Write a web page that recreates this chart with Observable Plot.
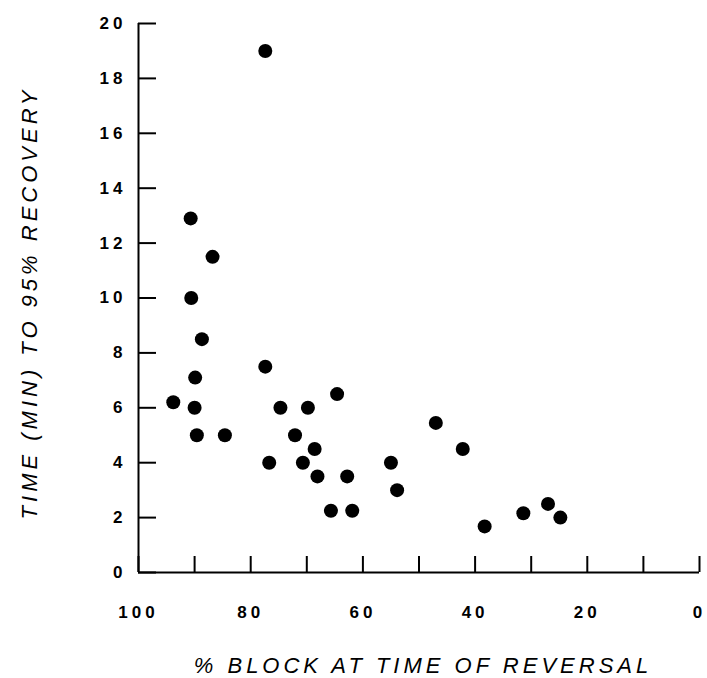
<!DOCTYPE html>
<html>
<head>
<meta charset="utf-8">
<script src="https://cdn.jsdelivr.net/npm/d3@7"></script>
<script src="https://cdn.jsdelivr.net/npm/@observablehq/plot@0.6"></script>
<style>
  body { margin: 0; background: #fff; }
  #chart svg { display: block; }
  #chart g[aria-label="x-axis tick label"] text,
  #chart g[aria-label="y-axis tick label"] text { letter-spacing: 4px; }
  #chart g.title text { letter-spacing: 4px; }
</style>
</head>
<body>
<div id="chart"></div>
<script>
// % block at time of reversal (x) and time (min) to 95% recovery (y)
const blockPct = [77.4, 90.7, 86.8, 90.6, 88.7, 89.9, 93.8, 90.0, 89.6, 84.6,
                  77.4, 76.7, 74.7, 72.1, 69.8, 70.7, 68.6, 68.1, 64.6, 65.7,
                  61.9, 62.8, 55.0, 53.9, 47.0, 42.2, 38.3, 31.4, 27.0, 24.8];
const recoveryMin = [19.0, 12.9, 11.5, 10.0, 8.5, 7.1, 6.2, 6.0, 5.0, 5.0,
                     7.5, 4.0, 6.0, 5.0, 6.0, 4.0, 4.5, 3.5, 6.5, 2.25,
                     2.25, 3.5, 4.0, 3.0, 5.45, 4.5, 1.68, 2.16, 2.5, 2.0];
const xTicks = [100, 90, 80, 70, 60, 50, 40, 30, 20, 10, 0];
const xTickLabels = [100, 80, 60, 40, 20, 0];
const yTicks = [0, 2, 4, 6, 8, 10, 12, 14, 16, 18, 20];
const xTitle = "% BLOCK AT TIME OF REVERSAL";
const yTitle = "TIME (MIN) TO 95% RECOVERY";

const data = blockPct.map((b, i) => ({block: b, time: recoveryMin[i]}));

const W = 707, H = 678;
const mL = 138, mR = 8, mT = 23, mB = 106;
const frameW = W - mL - mR, frameH = H - mT - mB;

const chart = Plot.plot({
  width: W,
  height: H,
  marginLeft: mL,
  marginRight: mR,
  marginTop: mT,
  marginBottom: mB,
  style: {fontFamily: "'Liberation Sans', Arial, sans-serif", background: "white", color: "black"},
  x: {domain: [100, 0]},
  y: {domain: [0, 20]},
  marks: [
    Plot.axisX(xTickLabels, {tickSize: 0, tickPadding: 33, fontSize: 17, fontWeight: "bold", label: null}),
    Plot.axisY(yTicks, {tickSize: 0, tickPadding: 12, fontSize: 17, fontWeight: "bold", label: null}),
    Plot.tickX(xTicks, {x: d => d, insetTop: frameH - 16, stroke: "black", strokeWidth: 2}),
    Plot.tickY(yTicks, {y: d => d, insetRight: frameW - 18, stroke: "black", strokeWidth: 2}),
    Plot.ruleY([0], {stroke: "black", strokeWidth: 2}),
    Plot.ruleX([100], {stroke: "black", strokeWidth: 2}),
    Plot.dot(data, {x: "block", y: "time", r: 7, fill: "black", stroke: null}),
    Plot.text([xTitle], {frameAnchor: "bottom", textAnchor: "middle", lineAnchor: "middle", dy: 93, dx: 4, fontSize: 22, fontStyle: "italic", className: "title"}),
    Plot.text([yTitle], {frameAnchor: "left", textAnchor: "middle", lineAnchor: "middle", rotate: -90, dx: -109, dy: 5, fontSize: 22, fontStyle: "italic", className: "title"})
  ]
});
document.getElementById("chart").appendChild(chart);
</script>
</body>
</html>
